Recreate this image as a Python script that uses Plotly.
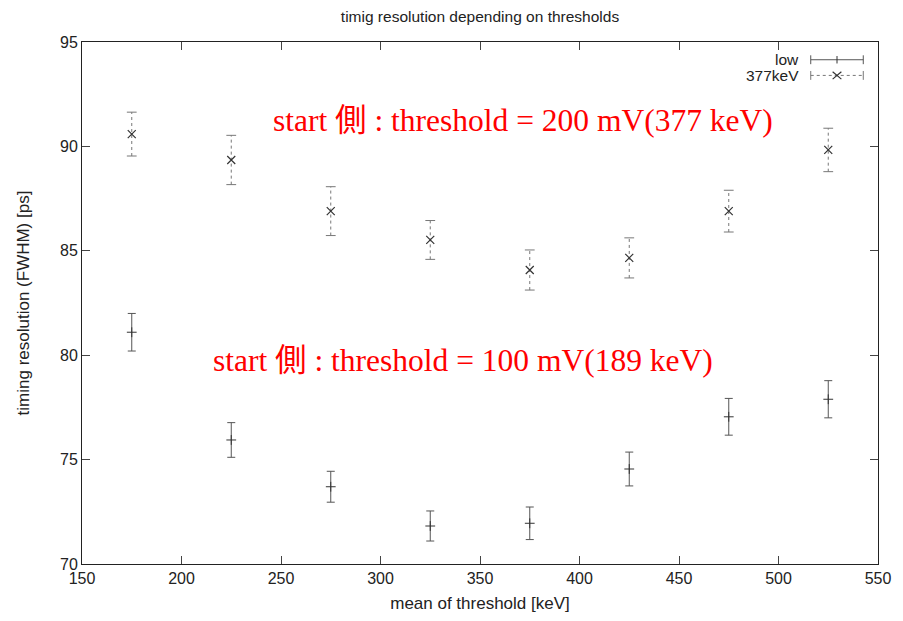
import plotly.graph_objects as go

# ---- data ----
thresholds = [175, 225, 275, 325, 375, 425, 475, 525]
low_res = [81.10, 75.94, 73.70, 71.82, 71.95, 74.55, 77.05, 77.89]
low_err = [0.90, 0.83, 0.74, 0.72, 0.78, 0.81, 0.88, 0.89]
k377_res = [90.59, 89.35, 86.90, 85.52, 84.08, 84.66, 86.90, 89.83]
k377_err = [1.05, 1.18, 1.17, 0.93, 0.96, 0.96, 1.00, 1.04]
series_names = ["low", "377keV"]
title_text = "timig resolution depending on thresholds"
x_title = "mean of threshold [keV]"
y_title = "timing resolution (FWHM) [ps]"
note_high = "start 側 : threshold = 200 mV(377 keV)"
note_low = "start 側 : threshold = 100 mV(189 keV)"

FONT = "Liberation Sans, Arial, sans-serif"
SERIF = "Liberation Serif, Noto Sans CJK JP, serif"
DARK = "#333333"
GREY = "#777777"

fig = go.Figure()

# low series: solid error bars with '+' markers
fig.add_trace(go.Scatter(
    x=thresholds, y=low_res, mode="markers", name=series_names[0],
    marker=dict(symbol="cross-thin-open", size=7, color=DARK, line=dict(color=DARK, width=1)),
    error_y=dict(type="data", array=low_err, visible=True, color="#555555",
                 thickness=1, width=4),
    showlegend=False,
))

# 377keV series: dashed error bars built from the data
vx, vy, cx, cy = [], [], [], []
for x, y, e in zip(thresholds, k377_res, k377_err):
    vx += [x, x, None]
    vy += [y - e, y + e, None]
    cx += [x, x]
    cy += [y - e, y + e]
fig.add_trace(go.Scatter(
    x=vx, y=vy, mode="lines", line=dict(color=GREY, width=1, dash="3px,3px"),
    showlegend=False, hoverinfo="skip",
))
fig.add_trace(go.Scatter(
    x=cx, y=cy, mode="markers",
    marker=dict(symbol="line-ew-open", size=7, color=GREY, line=dict(color=GREY, width=1)),
    showlegend=False, hoverinfo="skip",
))
fig.add_trace(go.Scatter(
    x=thresholds, y=k377_res, mode="markers", name=series_names[1],
    marker=dict(symbol="x-thin-open", size=8, color=DARK, line=dict(color=DARK, width=1.2)),
    showlegend=False,
))

# ---- hand-drawn legend (gnuplot style) in paper coords ----
shapes = []
annotations = []
leg_rows = [(0.966, "solid", "+"), (0.936, "dash", "x")]
x0, x1, xm = 0.9155, 0.9815, 0.9485
cap = 0.0085
mk = 0.0055
for (yy, dash, sym), name in zip(leg_rows, series_names):
    col = "#555555" if dash == "solid" else GREY
    shapes.append(dict(type="line", xref="paper", yref="paper", x0=x0, x1=x1, y0=yy, y1=yy,
                       line=dict(color=col, width=1, dash=dash if dash == "solid" else "3px,3px")))
    for xe in (x0, x1):
        shapes.append(dict(type="line", xref="paper", yref="paper", x0=xe, x1=xe,
                           y0=yy - cap, y1=yy + cap, line=dict(color=col, width=1)))
    # centre symbol
    if sym == "+":
        shapes.append(dict(type="line", xref="paper", yref="paper", x0=xm, x1=xm,
                           y0=yy - 1.3 * mk, y1=yy + 1.3 * mk, line=dict(color=DARK, width=1)))
    else:
        shapes.append(dict(type="line", xref="paper", yref="paper", x0=xm - mk, x1=xm + mk,
                           y0=yy - 1.3 * mk, y1=yy + 1.3 * mk, line=dict(color=DARK, width=1.2)))
        shapes.append(dict(type="line", xref="paper", yref="paper", x0=xm - mk, x1=xm + mk,
                           y0=yy + 1.3 * mk, y1=yy - 1.3 * mk, line=dict(color=DARK, width=1.2)))
    annotations.append(dict(xref="paper", yref="paper", x=0.9035, y=yy, text=name,
                            showarrow=False, xanchor="right", yanchor="middle",
                            font=dict(family=FONT, size=15.5, color="#222222")))

annotations.append(dict(xref="paper", yref="paper", x=0.554, y=0.849, text=note_high,
                        showarrow=False, xanchor="center", yanchor="middle",
                        font=dict(family=SERIF, size=31.5, color="#ff0000")))
annotations.append(dict(xref="paper", yref="paper", x=0.479, y=0.389, text=note_low,
                        showarrow=False, xanchor="center", yanchor="middle",
                        font=dict(family=SERIF, size=31.5, color="#ff0000")))

axis_common = dict(showgrid=False, zeroline=False, showline=True, linecolor="#222222",
                   linewidth=1, mirror="ticks", ticks="inside", ticklen=8,
                   tickcolor="#444444", tickfont=dict(family=FONT, size=16, color="#222222"))

fig.update_layout(
    width=903, height=621,
    margin=dict(l=82, r=22, t=42, b=57),
    paper_bgcolor="white", plot_bgcolor="white",
    title=dict(text=title_text, x=0.5, xref="paper", y=0.974, yanchor="middle",
               font=dict(family=FONT, size=15.5, color="#222222")),
    xaxis=dict(range=[150, 550], tick0=150, dtick=50,
               title=dict(text=x_title, standoff=10, font=dict(family=FONT, size=17, color="#222222")),
               **axis_common),
    yaxis=dict(range=[70, 95], tick0=70, dtick=5,
               title=dict(text=y_title, standoff=26, font=dict(family=FONT, size=17, color="#222222")),
               **axis_common),
    shapes=shapes, annotations=annotations,
)

fig.write_html("out.html")
